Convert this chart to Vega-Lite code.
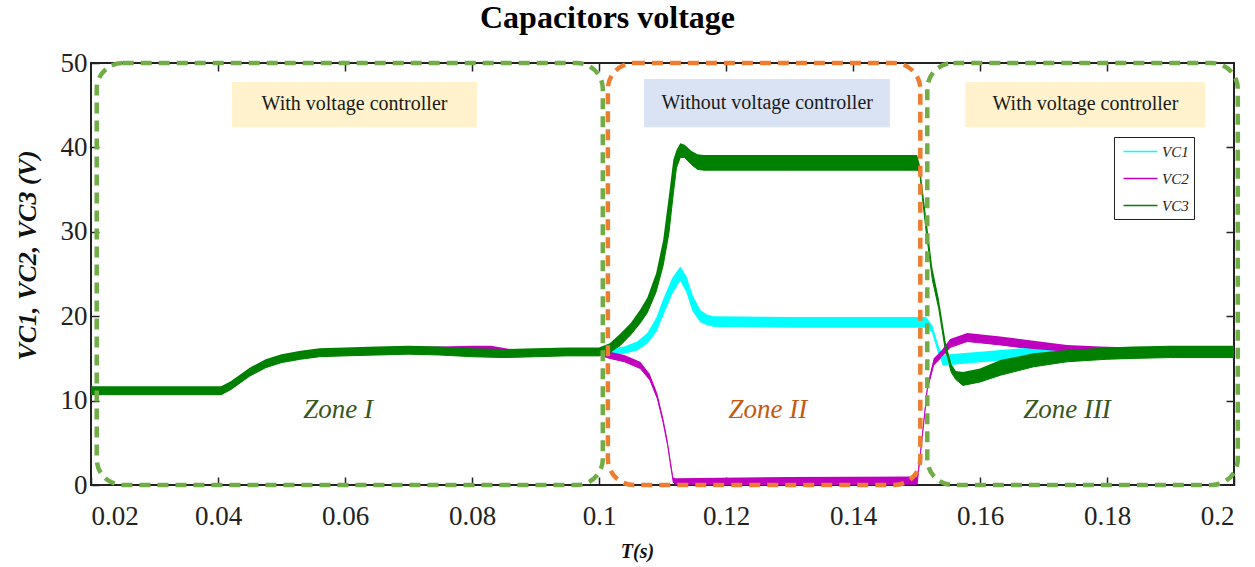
{
  "$schema": "https://vega.github.io/schema/vega-lite/v6.json",
  "width": 1143,
  "height": 422,
  "autosize": {"type": "none"},
  "padding": {"left": 91, "top": 63, "right": 21, "bottom": 82},
  "background": "white",
  "title": {"text": "Capacitors voltage", "font": "Liberation Serif", "fontSize": 32, "fontWeight": "bold", "color": "#000", "anchor": "middle", "dx": -55, "baseline": "alphabetic", "offset": -11},
  "config": {
    "view": {"stroke": "#222", "strokeWidth": 2},
    "axis": {"grid": false, "labelFont": "Liberation Serif", "labelFontSize": 27, "labelColor": "#222", "tickColor": "#222", "tickWidth": 1.5, "domainColor": "#222", "domainWidth": 2, "titleColor": "#111"}
  },
  "resolve": {"axis": {"x": "independent", "y": "independent"}},
  "datasets": {
    "caps": [
      {"s": "VC1", "t": 0.02, "lo": 10.8, "hi": 11.6},
      {"s": "VC1", "t": 0.0405, "lo": 10.8, "hi": 11.6},
      {"s": "VC1", "t": 0.042, "lo": 11.4, "hi": 12.2},
      {"s": "VC1", "t": 0.045, "lo": 13.0, "hi": 13.8},
      {"s": "VC1", "t": 0.0475, "lo": 14.0, "hi": 14.8},
      {"s": "VC1", "t": 0.05, "lo": 14.6, "hi": 15.4},
      {"s": "VC1", "t": 0.053, "lo": 15.0, "hi": 15.8},
      {"s": "VC1", "t": 0.056, "lo": 15.3, "hi": 16.1},
      {"s": "VC1", "t": 0.06, "lo": 15.4, "hi": 16.2},
      {"s": "VC1", "t": 0.065, "lo": 15.5, "hi": 16.3},
      {"s": "VC1", "t": 0.07, "lo": 15.6, "hi": 16.4},
      {"s": "VC1", "t": 0.075, "lo": 15.5, "hi": 16.3},
      {"s": "VC1", "t": 0.08, "lo": 15.3, "hi": 16.1},
      {"s": "VC1", "t": 0.085, "lo": 15.2, "hi": 16.0},
      {"s": "VC1", "t": 0.09, "lo": 15.3, "hi": 16.1},
      {"s": "VC1", "t": 0.095, "lo": 15.4, "hi": 16.2},
      {"s": "VC1", "t": 0.1, "lo": 15.4, "hi": 16.2},
      {"s": "VC1", "t": 0.102, "lo": 15.4, "hi": 16.2},
      {"s": "VC1", "t": 0.104, "lo": 15.6, "hi": 16.4},
      {"s": "VC1", "t": 0.106, "lo": 16.0, "hi": 17.0},
      {"s": "VC1", "t": 0.1076, "lo": 16.8, "hi": 18.0},
      {"s": "VC1", "t": 0.109, "lo": 18.2, "hi": 19.8},
      {"s": "VC1", "t": 0.1101, "lo": 20.2, "hi": 22.0},
      {"s": "VC1", "t": 0.1115, "lo": 22.7, "hi": 24.5},
      {"s": "VC1", "t": 0.1128, "lo": 24.3, "hi": 25.9},
      {"s": "VC1", "t": 0.1138, "lo": 22.9, "hi": 24.7},
      {"s": "VC1", "t": 0.1148, "lo": 20.6, "hi": 22.4},
      {"s": "VC1", "t": 0.116, "lo": 19.3, "hi": 20.7},
      {"s": "VC1", "t": 0.117, "lo": 19.0, "hi": 20.2},
      {"s": "VC1", "t": 0.118, "lo": 18.8, "hi": 20.0},
      {"s": "VC1", "t": 0.13, "lo": 18.7, "hi": 19.9},
      {"s": "VC1", "t": 0.1515, "lo": 18.7, "hi": 19.9},
      {"s": "VC1", "t": 0.1525, "lo": 18.1, "hi": 18.9},
      {"s": "VC1", "t": 0.1535, "lo": 15.6, "hi": 16.4},
      {"s": "VC1", "t": 0.1542, "lo": 14.2, "hi": 15.4},
      {"s": "VC1", "t": 0.157, "lo": 14.4, "hi": 15.6},
      {"s": "VC1", "t": 0.16, "lo": 14.6, "hi": 15.8},
      {"s": "VC1", "t": 0.1632, "lo": 14.8, "hi": 16.0},
      {"s": "VC1", "t": 0.1684, "lo": 15.1, "hi": 16.3},
      {"s": "VC1", "t": 0.175, "lo": 15.3, "hi": 16.3},
      {"s": "VC1", "t": 0.2, "lo": 15.3, "hi": 16.3},

      {"s": "VC2", "t": 0.02, "lo": 10.8, "hi": 11.6},
      {"s": "VC2", "t": 0.0405, "lo": 10.8, "hi": 11.6},
      {"s": "VC2", "t": 0.042, "lo": 11.4, "hi": 12.2},
      {"s": "VC2", "t": 0.045, "lo": 13.0, "hi": 13.8},
      {"s": "VC2", "t": 0.0475, "lo": 14.0, "hi": 14.8},
      {"s": "VC2", "t": 0.05, "lo": 14.6, "hi": 15.4},
      {"s": "VC2", "t": 0.053, "lo": 15.0, "hi": 15.8},
      {"s": "VC2", "t": 0.056, "lo": 15.3, "hi": 16.1},
      {"s": "VC2", "t": 0.06, "lo": 15.4, "hi": 16.2},
      {"s": "VC2", "t": 0.065, "lo": 15.5, "hi": 16.3},
      {"s": "VC2", "t": 0.07, "lo": 15.6, "hi": 16.4},
      {"s": "VC2", "t": 0.075, "lo": 15.6, "hi": 16.4},
      {"s": "VC2", "t": 0.08, "lo": 15.7, "hi": 16.5},
      {"s": "VC2", "t": 0.083, "lo": 15.7, "hi": 16.5},
      {"s": "VC2", "t": 0.087, "lo": 15.2, "hi": 16.0},
      {"s": "VC2", "t": 0.09, "lo": 15.3, "hi": 16.1},
      {"s": "VC2", "t": 0.095, "lo": 15.4, "hi": 16.2},
      {"s": "VC2", "t": 0.1, "lo": 15.4, "hi": 16.2},
      {"s": "VC2", "t": 0.1017, "lo": 15.0, "hi": 15.8},
      {"s": "VC2", "t": 0.104, "lo": 14.6, "hi": 15.4},
      {"s": "VC2", "t": 0.1065, "lo": 13.8, "hi": 14.6},
      {"s": "VC2", "t": 0.108, "lo": 12.45, "hi": 13.15},
      {"s": "VC2", "t": 0.1092, "lo": 10.2, "hi": 10.8},
      {"s": "VC2", "t": 0.1101, "lo": 7.4, "hi": 8.0},
      {"s": "VC2", "t": 0.1108, "lo": 4.7, "hi": 5.3},
      {"s": "VC2", "t": 0.1112, "lo": 2.7, "hi": 3.3},
      {"s": "VC2", "t": 0.1117, "lo": 0.3, "hi": 0.9},
      {"s": "VC2", "t": 0.112, "lo": 0.1, "hi": 0.8},
      {"s": "VC2", "t": 0.13, "lo": 0.05, "hi": 0.95},
      {"s": "VC2", "t": 0.1501, "lo": 0.1, "hi": 1.0},
      {"s": "VC2", "t": 0.1506, "lo": 3.5, "hi": 4.1},
      {"s": "VC2", "t": 0.1517, "lo": 11.3, "hi": 11.9},
      {"s": "VC2", "t": 0.1527, "lo": 14.2, "hi": 15.0},
      {"s": "VC2", "t": 0.154, "lo": 15.2, "hi": 16.0},
      {"s": "VC2", "t": 0.1553, "lo": 16.3, "hi": 17.3},
      {"s": "VC2", "t": 0.158, "lo": 17.0, "hi": 18.0},
      {"s": "VC2", "t": 0.1632, "lo": 16.6, "hi": 17.6},
      {"s": "VC2", "t": 0.1684, "lo": 16.1, "hi": 17.1},
      {"s": "VC2", "t": 0.1737, "lo": 15.8, "hi": 16.6},
      {"s": "VC2", "t": 0.1789, "lo": 15.6, "hi": 16.4},
      {"s": "VC2", "t": 0.185, "lo": 15.45, "hi": 16.25},
      {"s": "VC2", "t": 0.2, "lo": 15.4, "hi": 16.2},

      {"s": "VC3", "t": 0.02, "lo": 10.7, "hi": 11.7},
      {"s": "VC3", "t": 0.0405, "lo": 10.7, "hi": 11.7},
      {"s": "VC3", "t": 0.042, "lo": 11.3, "hi": 12.3},
      {"s": "VC3", "t": 0.045, "lo": 12.9, "hi": 13.9},
      {"s": "VC3", "t": 0.0475, "lo": 13.9, "hi": 14.9},
      {"s": "VC3", "t": 0.05, "lo": 14.5, "hi": 15.5},
      {"s": "VC3", "t": 0.053, "lo": 14.9, "hi": 15.9},
      {"s": "VC3", "t": 0.056, "lo": 15.2, "hi": 16.2},
      {"s": "VC3", "t": 0.06, "lo": 15.3, "hi": 16.3},
      {"s": "VC3", "t": 0.065, "lo": 15.4, "hi": 16.4},
      {"s": "VC3", "t": 0.07, "lo": 15.5, "hi": 16.5},
      {"s": "VC3", "t": 0.075, "lo": 15.4, "hi": 16.4},
      {"s": "VC3", "t": 0.08, "lo": 15.2, "hi": 16.2},
      {"s": "VC3", "t": 0.085, "lo": 15.1, "hi": 16.1},
      {"s": "VC3", "t": 0.09, "lo": 15.2, "hi": 16.2},
      {"s": "VC3", "t": 0.095, "lo": 15.3, "hi": 16.3},
      {"s": "VC3", "t": 0.1, "lo": 15.3, "hi": 16.3},
      {"s": "VC3", "t": 0.1017, "lo": 15.6, "hi": 16.8},
      {"s": "VC3", "t": 0.1033, "lo": 16.5, "hi": 17.9},
      {"s": "VC3", "t": 0.105, "lo": 17.8, "hi": 19.2},
      {"s": "VC3", "t": 0.1065, "lo": 19.2, "hi": 20.8},
      {"s": "VC3", "t": 0.1076, "lo": 20.4, "hi": 22.2},
      {"s": "VC3", "t": 0.109, "lo": 22.9, "hi": 25.1},
      {"s": "VC3", "t": 0.1101, "lo": 26.0, "hi": 29.0},
      {"s": "VC3", "t": 0.111, "lo": 29.8, "hi": 34.2},
      {"s": "VC3", "t": 0.1117, "lo": 34.5, "hi": 38.5},
      {"s": "VC3", "t": 0.1122, "lo": 37.6, "hi": 39.7},
      {"s": "VC3", "t": 0.1128, "lo": 38.8, "hi": 40.5},
      {"s": "VC3", "t": 0.1135, "lo": 38.8, "hi": 40.3},
      {"s": "VC3", "t": 0.1145, "lo": 38.0, "hi": 39.6},
      {"s": "VC3", "t": 0.1155, "lo": 37.4, "hi": 39.2},
      {"s": "VC3", "t": 0.1165, "lo": 37.3, "hi": 39.1},
      {"s": "VC3", "t": 0.13, "lo": 37.3, "hi": 39.1},
      {"s": "VC3", "t": 0.1501, "lo": 37.3, "hi": 39.1},
      {"s": "VC3", "t": 0.1505, "lo": 37.0, "hi": 38.0},
      {"s": "VC3", "t": 0.1515, "lo": 30.2, "hi": 31.8},
      {"s": "VC3", "t": 0.1525, "lo": 24.3, "hi": 25.7},
      {"s": "VC3", "t": 0.1535, "lo": 20.9, "hi": 22.1},
      {"s": "VC3", "t": 0.1546, "lo": 15.7, "hi": 16.9},
      {"s": "VC3", "t": 0.1555, "lo": 13.3, "hi": 14.3},
      {"s": "VC3", "t": 0.1562, "lo": 12.5, "hi": 13.5},
      {"s": "VC3", "t": 0.1573, "lo": 11.8, "hi": 13.4},
      {"s": "VC3", "t": 0.16, "lo": 12.2, "hi": 13.8},
      {"s": "VC3", "t": 0.1632, "lo": 13.0, "hi": 14.8},
      {"s": "VC3", "t": 0.1684, "lo": 14.0, "hi": 15.6},
      {"s": "VC3", "t": 0.1737, "lo": 14.6, "hi": 16.0},
      {"s": "VC3", "t": 0.18, "lo": 14.9, "hi": 16.3},
      {"s": "VC3", "t": 0.1841, "lo": 15.0, "hi": 16.4},
      {"s": "VC3", "t": 0.19, "lo": 15.1, "hi": 16.5},
      {"s": "VC3", "t": 0.2, "lo": 15.1, "hi": 16.5}
    ]
  },
  "layer": [
    {
      "data": {"values": [
        {"x0": 0.0422, "x1": 0.0808, "y0": 42.4, "y1": 47.75},
        {"x0": 0.1577, "x1": 0.1955, "y0": 42.4, "y1": 47.75}
      ]},
      "mark": {"type": "rect", "fill": "#FFF2CC"},
      "encoding": {
        "x": {"field": "x0", "type": "quantitative", "scale": {"domain": [0.02, 0.2], "nice": false, "zero": false},
              "axis": {"orient": "top", "values": [0.04, 0.06, 0.08, 0.1, 0.12, 0.14, 0.16, 0.18], "labels": false, "domain": false, "tickSize": -8, "title": null}},
        "x2": {"field": "x1"},
        "y": {"field": "y0", "type": "quantitative", "scale": {"domain": [0, 50], "nice": false, "zero": false},
              "axis": {"orient": "right", "values": [10, 20, 30, 40], "labels": false, "domain": false, "tickSize": -8, "title": null}},
        "y2": {"field": "y1"}
      }
    },
    {
      "data": {"values": [
        {"x0": 0.1071, "x1": 0.1458, "y0": 42.4, "y1": 48.1}
      ]},
      "mark": {"type": "rect", "fill": "#DAE3F3"},
      "encoding": {
        "x": {"field": "x0", "type": "quantitative", "axis": null},
        "x2": {"field": "x1"},
        "y": {"field": "y0", "type": "quantitative", "axis": null},
        "y2": {"field": "y1"}
      }
    },
    {
      "data": {"values": [
        {"t": 0.0615, "v": 45.1, "label": "With voltage controller"},
        {"t": 0.1265, "v": 45.3, "label": "Without voltage controller"},
        {"t": 0.1766, "v": 45.1, "label": "With voltage controller"}
      ]},
      "mark": {"type": "text", "font": "Liberation Serif", "fontSize": 20, "color": "#1a1a1a", "align": "center", "baseline": "middle"},
      "encoding": {
        "x": {"field": "t", "type": "quantitative", "axis": null},
        "y": {"field": "v", "type": "quantitative", "axis": null},
        "text": {"field": "label"}
      }
    },
    {
      "data": {"name": "caps"},
      "mark": {"type": "line", "strokeWidth": 1},
      "encoding": {
        "x": {"field": "t", "type": "quantitative", "axis": null},
        "y": {"field": "lo", "type": "quantitative", "axis": null},
        "color": {"field": "s", "type": "nominal",
                  "scale": {"domain": ["VC1", "VC2", "VC3"], "range": ["#00FFFF", "#BF00BF", "#008000"]},
                  "legend": {"title": null, "orient": "none", "legendX": 1023, "legendY": 74, "direction": "vertical",
                             "symbolType": "M-2,0H2", "symbolSize": 289, "symbolStrokeWidth": 1.5, "symbolOffset": 12, "labelOffset": 12, "rowPadding": 9, "padding": 5,
                             "strokeColor": "#222", "fillColor": "white", "labelFont": "Liberation Serif", "labelFontStyle": "italic", "labelFontSize": 15, "labelColor": "#222"}}
      }
    },
    {
      "data": {"name": "caps"},
      "mark": {"type": "area", "opacity": 1},
      "encoding": {
        "x": {"field": "t", "type": "quantitative",
              "axis": {"orient": "bottom", "values": [0.02, 0.04, 0.06, 0.08, 0.1, 0.12, 0.14, 0.16, 0.18, 0.2], "format": ".2~f", "tickSize": -8, "labelPadding": 26, "domain": false,
                       "title": "T(s)", "titleFont": "Liberation Serif", "titleFontSize": 20, "titleFontWeight": "bold", "titleFontStyle": "italic", "titleX": 546, "titleY": 72, "titleBaseline": "alphabetic"}},
        "y": {"field": "lo", "type": "quantitative", "stack": null,
              "axis": {"orient": "left", "values": [0, 10, 20, 30, 40, 50], "tickSize": -8, "labelPadding": 12, "domain": false,
                       "title": "VC1, VC2, VC3 (V)", "titleFont": "Liberation Serif", "titleFontSize": 26, "titleFontWeight": "bold", "titleFontStyle": "italic", "titleX": -56, "titleY": 192, "titleBaseline": "alphabetic"}},
        "y2": {"field": "hi"},
        "fill": {"field": "s", "type": "nominal",
                  "scale": {"domain": ["VC1", "VC2", "VC3"], "range": ["#00FFFF", "#BF00BF", "#008000"]},
                  "legend": null}
      }
    },
    {
      "data": {"values": [
        {"zone": "Zone I", "t0": 0.0209, "t1": 0.1006},
        {"zone": "Zone III", "t0": 0.1517, "t1": 0.2006}
      ]},
      "mark": {"type": "rect", "fill": null, "fillOpacity": 0, "stroke": "#70AD47", "strokeWidth": 4.5, "strokeDash": [11, 7], "cornerRadius": 26},
      "encoding": {
        "x": {"field": "t0", "type": "quantitative", "axis": null},
        "x2": {"field": "t1"},
        "y": {"datum": 0, "type": "quantitative", "axis": null},
        "y2": {"datum": 50}
      }
    },
    {
      "data": {"values": [
        {"zone": "Zone II", "t0": 0.1014, "t1": 0.1506}
      ]},
      "mark": {"type": "rect", "fill": null, "fillOpacity": 0, "stroke": "#ED7D31", "strokeWidth": 4.5, "strokeDash": [11, 7], "cornerRadius": 26},
      "encoding": {
        "x": {"field": "t0", "type": "quantitative", "axis": null},
        "x2": {"field": "t1"},
        "y": {"datum": 0, "type": "quantitative", "axis": null},
        "y2": {"datum": 50}
      }
    },
    {
      "data": {"values": [
        {"t": 0.0589, "v": 8.9, "label": "Zone I"},
        {"t": 0.1737, "v": 8.9, "label": "Zone III"}
      ]},
      "mark": {"type": "text", "font": "Liberation Serif", "fontSize": 27, "fontStyle": "italic", "color": "#375623", "align": "center", "baseline": "middle"},
      "encoding": {
        "x": {"field": "t", "type": "quantitative", "axis": null},
        "y": {"field": "v", "type": "quantitative", "axis": null},
        "text": {"field": "label"}
      }
    },
    {
      "data": {"values": [
        {"t": 0.1266, "v": 8.9, "label": "Zone II"}
      ]},
      "mark": {"type": "text", "font": "Liberation Serif", "fontSize": 27, "fontStyle": "italic", "color": "#C55A11", "align": "center", "baseline": "middle"},
      "encoding": {
        "x": {"field": "t", "type": "quantitative", "axis": null},
        "y": {"field": "v", "type": "quantitative", "axis": null},
        "text": {"field": "label"}
      }
    }
  ]
}
